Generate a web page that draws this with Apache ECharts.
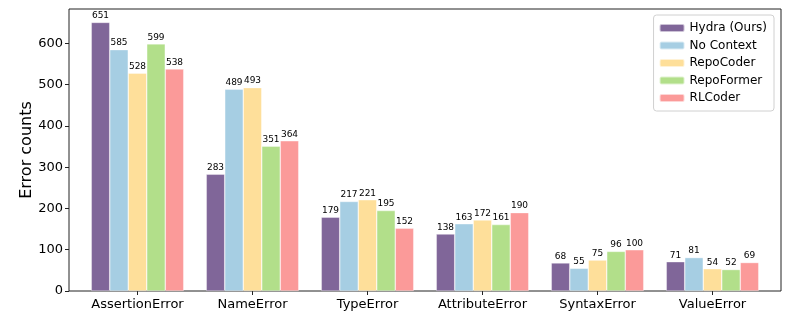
<!DOCTYPE html>
<html>
<head>
<meta charset="utf-8">
<script src="https://cdn.jsdelivr.net/npm/echarts@6/dist/echarts.min.js"></script>
<style>html,body{margin:0;padding:0;background:#fff}#c{width:793px;height:319px}</style>
</head>
<body>
<div id="c"></div>
<script>
const categories = ['AssertionError','NameError','TypeError','AttributeError','SyntaxError','ValueError'];
const seriesNames = ['Hydra (Ours)','No Context','RepoCoder','RepoFormer','RLCoder'];
const hydra = [651, 283, 179, 138, 68, 71];
const noContext = [585, 489, 217, 163, 55, 81];
const repoCoder = [528, 493, 221, 172, 75, 54];
const repoFormer = [599, 351, 195, 161, 96, 52];
const rlCoder = [538, 364, 152, 190, 100, 69];
const yTicks = [0, 100, 200, 300, 400, 500, 600];
const colors = ['#806699', '#a6cee3', '#fedf9a', '#b2df8a', '#fb9a99'];
const seriesData = [hydra, noContext, repoCoder, repoFormer, rlCoder];

const font = 'DejaVu Sans';
const yMax = 683.5;
const chart = echarts.init(document.getElementById('c'), null, {renderer: 'canvas'});
chart.setOption({
  animation: false,
  textStyle: {fontFamily: font},
  grid: [
    {left: 69, right: 12, top: 9, bottom: 28, show: true, borderColor: '#222', borderWidth: 1, backgroundColor: 'transparent'},
    {left: 80, right: 23, top: 9, bottom: 28}
  ],
  legend: {
    orient: 'vertical', right: 19, top: 15,
    itemWidth: 25, itemHeight: 8, itemGap: 5.5,
    borderColor: '#d0d0d0', borderWidth: 1, borderRadius: 3,
    padding: [7, 7, 7, 5],
    textStyle: {fontFamily: font, fontSize: 12, color: '#000'},
    data: seriesNames
  },
  xAxis: [
    {type: 'value', gridIndex: 0, min: 0, max: 1, show: false},
    {type: 'category', gridIndex: 1, data: categories,
      axisLine: {show: false},
      axisTick: {show: true, alignWithLabel: true, interval: 0, length: 4, lineStyle: {color: '#222'}},
      axisLabel: {interval: 0, fontFamily: font, fontSize: 13, color: '#000', margin: 7}
    }
  ],
  yAxis: [
    {type: 'value', gridIndex: 0, min: 0, max: yMax, interval: 100,
      name: 'Error counts', nameLocation: 'middle', nameGap: 34, nameMoveOverlap: false,
      nameTextStyle: {fontFamily: font, fontSize: 16, color: '#000'},
      axisLine: {show: false},
      axisTick: {show: true, length: 4, lineStyle: {color: '#222'}},
      axisLabel: {fontFamily: font, fontSize: 13, color: '#000', margin: 6, showMaxLabel: false,
        formatter: v => yTicks.includes(v) ? String(v) : ''},
      splitLine: {show: false}
    },
    {type: 'value', gridIndex: 1, min: 0, max: yMax, show: false, splitLine: {show: false}}
  ],
  series: seriesNames.map((name, i) => ({
    name: name, type: 'bar', xAxisIndex: 1, yAxisIndex: 1,
    data: seriesData[i],
    barWidth: 18.5, barGap: '0%',
    itemStyle: {color: colors[i], borderColor: 'rgba(255,255,255,0.6)', borderWidth: 0.6},
    label: {show: true, position: 'top', distance: 2, fontFamily: font, fontSize: 9, color: '#000'}
  }))
});
</script>
</body>
</html>
